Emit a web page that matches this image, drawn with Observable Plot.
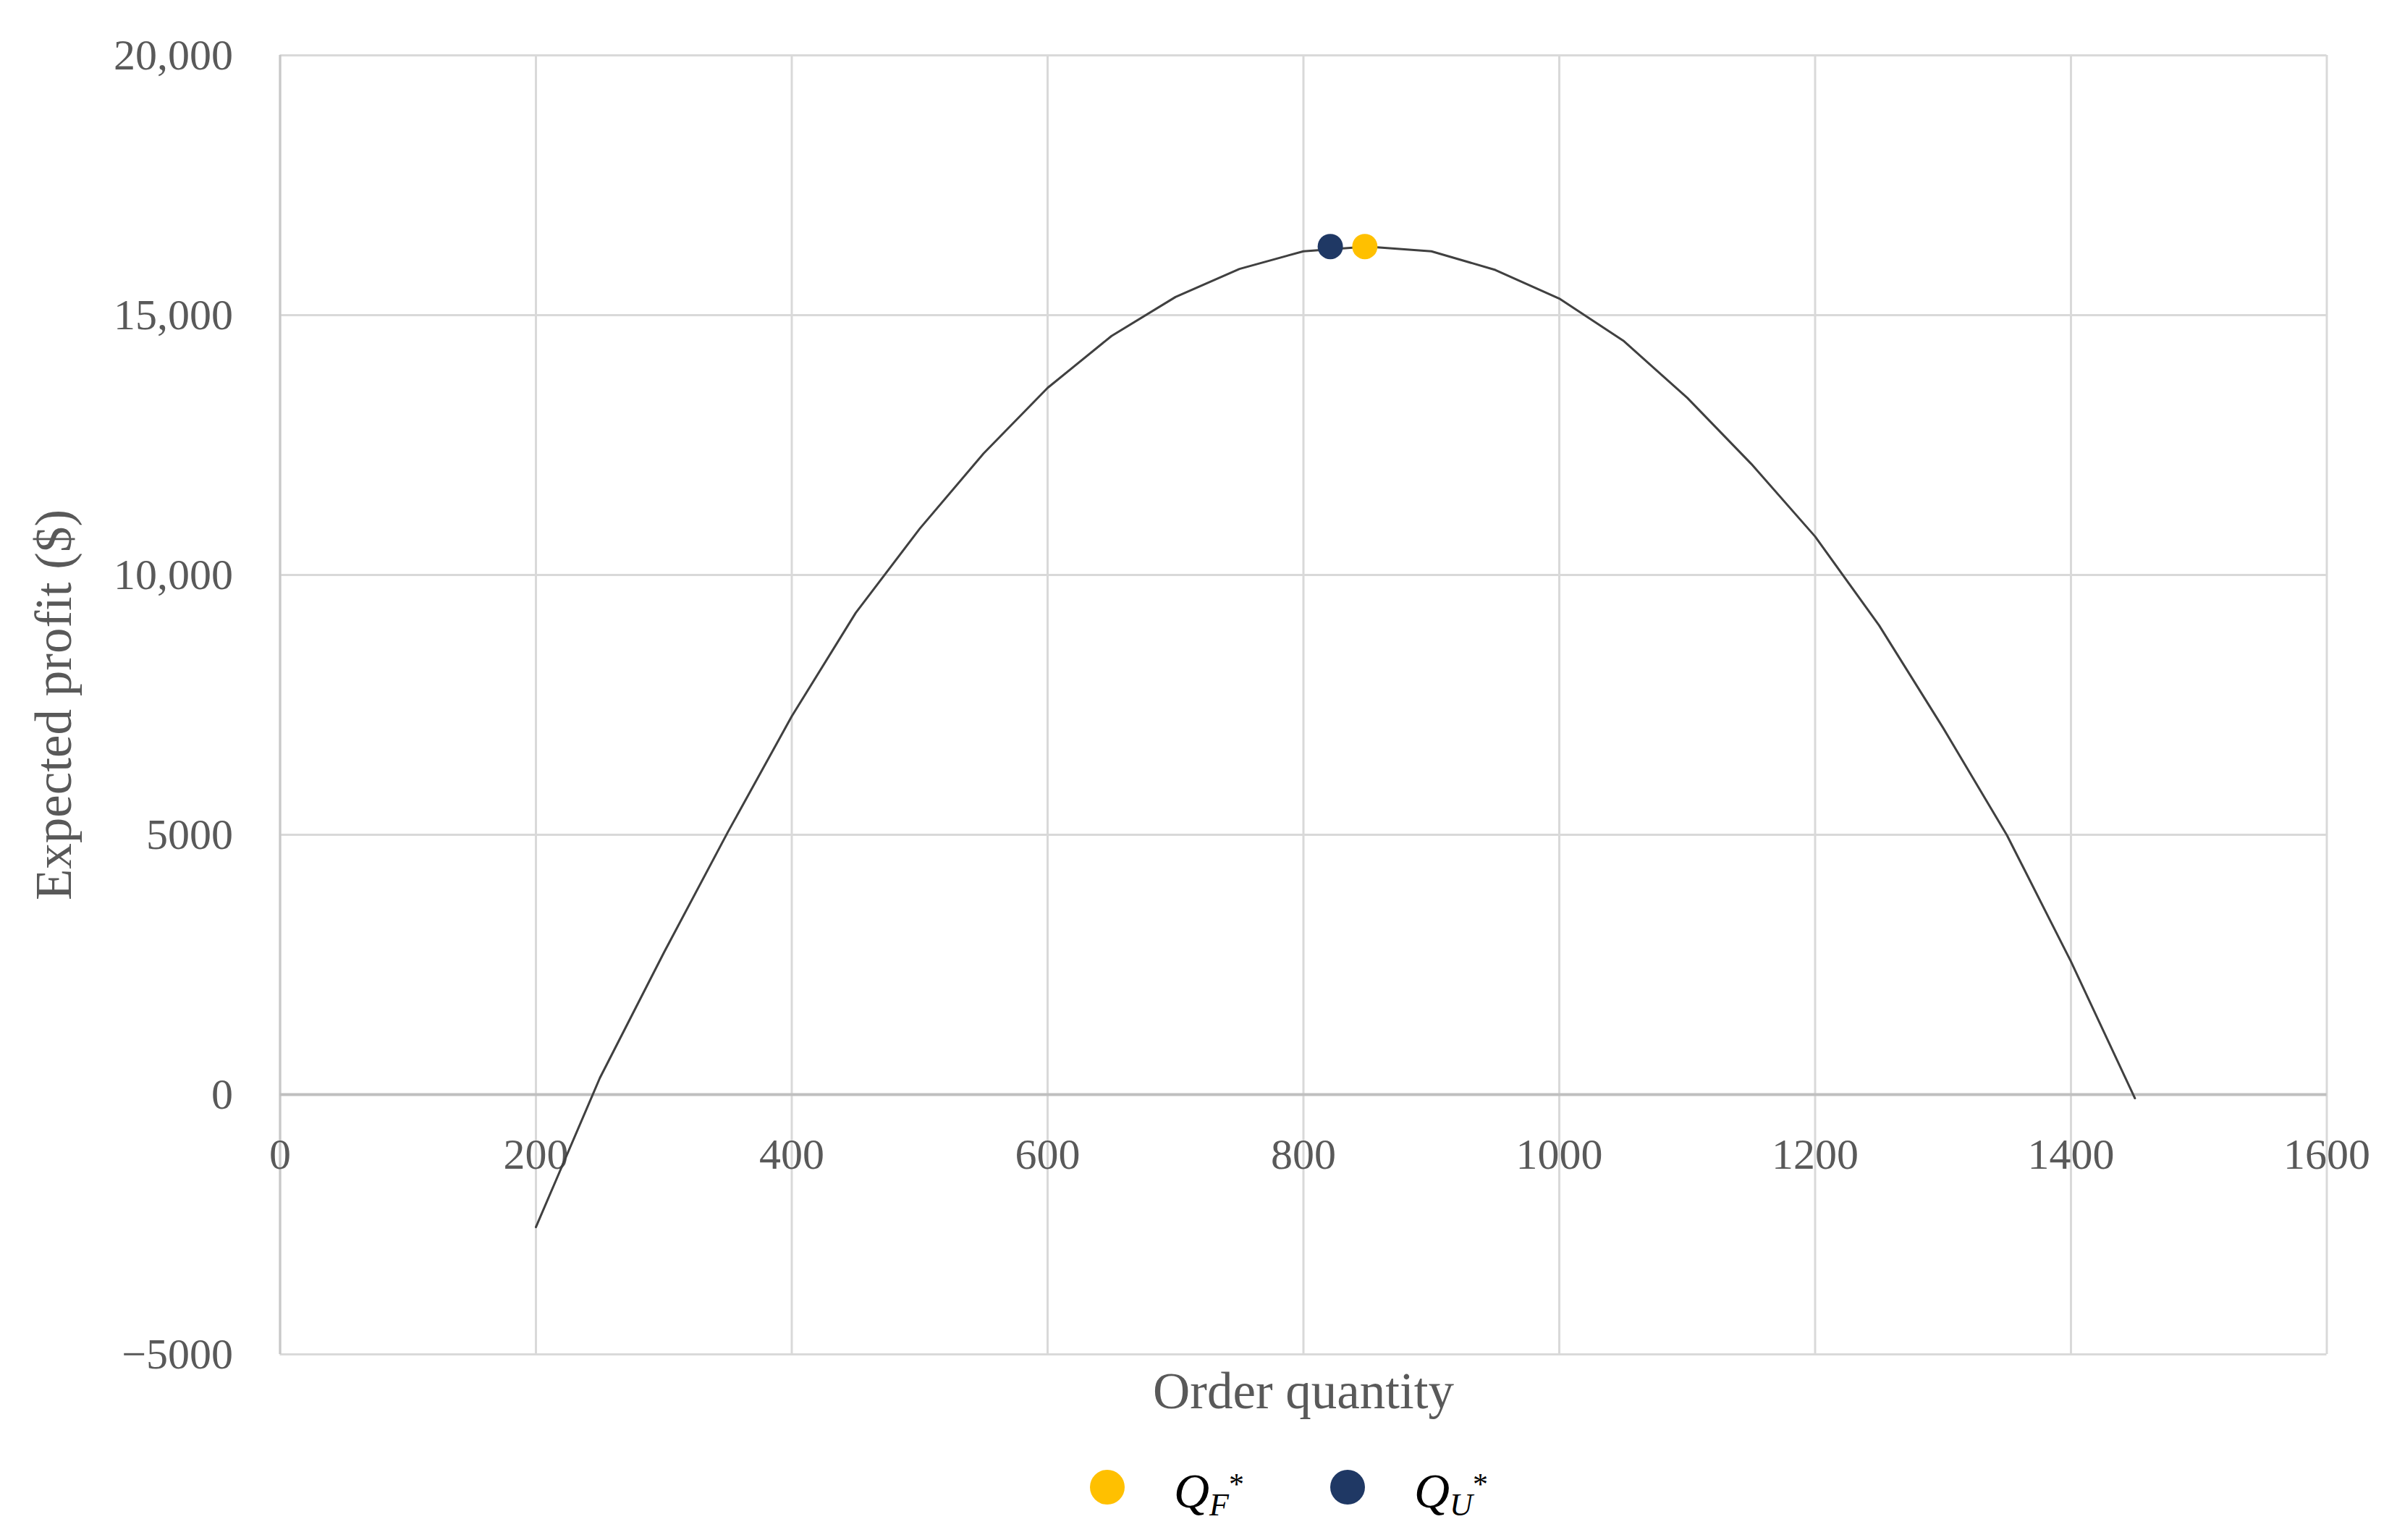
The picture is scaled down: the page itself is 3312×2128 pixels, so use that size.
<!DOCTYPE html>
<html>
<head>
<meta charset="utf-8">
<script src="https://cdn.jsdelivr.net/npm/d3@7"></script>
<script src="https://cdn.jsdelivr.net/npm/@observablehq/plot@0.6"></script>
<style>
  html, body { margin: 0; padding: 0; background: #ffffff; }
  body { width: 3312px; height: 2128px; overflow: hidden; position: relative; }
  #chart svg { display: block; }
  #legend {
    position: absolute; left: 0; top: 2000px; width: 3312px; height: 110px;
    display: flex; align-items: center; padding-left: 1506px; box-sizing: border-box;
  }
  .item { display: flex; align-items: center; }
  .sw { width: 48px; height: 48px; border-radius: 50%; display: inline-block; }
  .lab {
    position: relative; top: 5px; display: inline-block; font-family: "Liberation Serif", serif;
    font-style: italic; font-size: 68px; line-height: 1; color: #000; margin-left: 68px; white-space: nowrap;
  }
  .lab .sub { position: relative; top: 11px; font-size: 44px; line-height: 1; }
  .lab .sup { position: relative; top: -18px; font-size: 42px; line-height: 1; font-style: normal; }
</style>
</head>
<body>
<div id="chart"></div>
<div id="legend"></div>
<script>
// Order quantity (x) and expected profit (y) of the curve
const quantities = [200, 250, 300, 350, 400, 450, 500, 550, 600, 650, 700, 750, 800,
                    850, 900, 950, 1000, 1050, 1100, 1150, 1200, 1250, 1300, 1350, 1400, 1450];
const profits = [-2550, 320, 2730, 5050, 7280, 9270, 10890, 12340, 13600, 14600, 15350, 15890, 16230,
                 16320, 16230, 15870, 15320, 14510, 13410, 12140, 10740, 9030, 7060, 4990, 2560, -70];

// Optimal order quantities
const optNames = ["F", "U"];
const optQuantity = [848, 821];
const optProfit = [16320, 16320];
const optColors = ["#ffc000", "#1f3864"];

// Ticks
const xTicks = [0, 200, 400, 600, 800, 1000, 1200, 1400, 1600];
const xTickLabels = ["0", "200", "400", "600", "800", "1000", "1200", "1400", "1600"];
const yTicks = [-5000, 0, 5000, 10000, 15000, 20000];
const yTickLabels = ["\u22125000", "0", "5000", "10,000", "15,000", "20,000"];

const curve = quantities.map((q, i) => ({q, p: profits[i]}));
const optima = optNames.map((n, i) => ({name: n, q: optQuantity[i], p: optProfit[i], color: optColors[i]}));

const W = 3312, H = 1990;
const chart = Plot.plot({
  width: W,
  height: H,
  marginLeft: 386.5,
  marginRight: 97.5,
  marginTop: 76,
  marginBottom: 119,
  x: {domain: [0, 1600], axis: null},
  y: {domain: [-5000, 20000], axis: null},
  style: {fontFamily: "'Liberation Serif', serif", fontSize: "60px", color: "#595959", background: "#ffffff"},
  marks: [
    Plot.gridX(xTicks, {stroke: "#d9d9d9", strokeOpacity: 1, strokeWidth: 3}),
    Plot.gridY(yTicks, {stroke: "#d9d9d9", strokeOpacity: 1, strokeWidth: 3}),
    Plot.ruleX([0], {stroke: "#c8c8c8", strokeWidth: 3}),
    Plot.ruleY([0], {stroke: "#bfbfbf", strokeWidth: 4}),
    Plot.axisY(yTicks, {
      anchor: "left", tickSize: 0, tickPadding: 65, label: null,
      tickFormat: d => yTickLabels[yTicks.indexOf(d)],
      fontSize: 60, fill: "#595959"
    }),
    Plot.text(xTicks, {
      x: d => d, y: () => 0, dy: 83,
      text: d => xTickLabels[xTicks.indexOf(d)],
      fontSize: 60, fill: "#595959"
    }),
    Plot.line(curve, {x: "q", y: "p", stroke: "#404040", strokeWidth: 3}),
    Plot.dot(optima, {x: "q", y: "p", r: 17.5, fill: "color", stroke: null}),
    Plot.text(["Order quantity"], {frameAnchor: "bottom", dy: 74, text: d => d, fontSize: 71, fill: "#595959"}),
    Plot.text(["Expected profit ($)"], {frameAnchor: "left", textAnchor: "middle", dx: -312, rotate: -90, text: d => d, fontSize: 71, fill: "#595959"})
  ]
});
document.getElementById("chart").appendChild(chart);

// Legend
const legend = document.getElementById("legend");
optNames.forEach((n, i) => {
  const item = document.createElement("span");
  item.className = "item";
  if (i > 0) item.style.marginLeft = "119px";
  const sw = document.createElement("span");
  sw.className = "sw";
  sw.style.background = optColors[i];
  const lab = document.createElement("span");
  lab.className = "lab";
  lab.innerHTML = 'Q<span class="sub">' + n + '</span><span class="sup">*</span>';
  item.appendChild(sw);
  item.appendChild(lab);
  legend.appendChild(item);
});
</script>
</body>
</html>
